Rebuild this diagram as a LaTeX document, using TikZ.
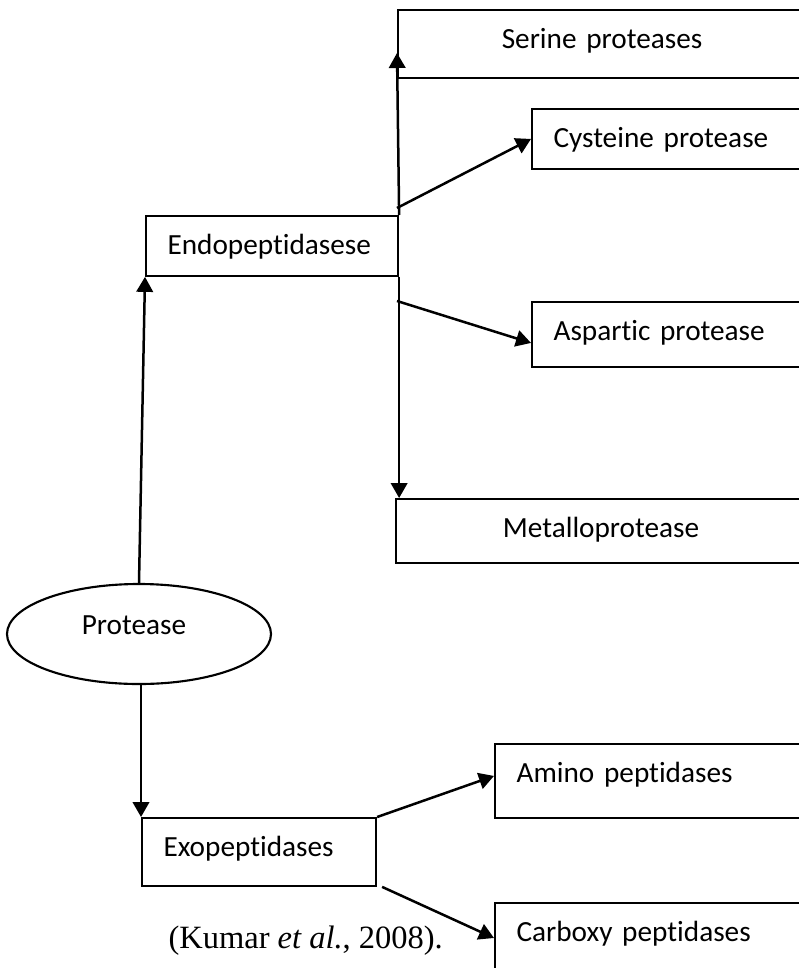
\documentclass[tikz,border=0pt]{standalone}
\usepackage{fontspec}
\setmainfont{Carlito}[Ligatures=NoCommon]
\newfontfamily\citefont{Liberation Serif}
\usetikzlibrary{arrows.meta,shapes.geometric}
\begin{document}
\begin{tikzpicture}[x=0.4pt,y=-0.4pt,
  box/.style={draw=drawColor,line width=0.85pt,rectangle,anchor=north west,inner ysep=0pt,inner xsep=8.6pt,
    text height=15.5pt,align=left,font=\fontsize{11.7}{13}\selectfont},
  link/.style={draw=drawColor,line width=1pt,-{Triangle[length=6pt,width=6.6pt]}}]
\definecolor{drawColor}{RGB}{0,0,0}
\path[use as bounding box,fill=white] (0,0) rectangle (799,968);

\node[box,inner xsep=0pt,text width=163.2pt,align=center,text depth=11.6pt] (serine) at (397,9) {Serine proteases};
\node[box,text width=100pt,text depth=8.4pt] (cysteine) at (531,108) {Cysteine protease};
\node[box,text width=100pt,text depth=10.4pt] (aspartic) at (531,301) {Aspartic protease};
\node[box,inner xsep=0pt,text width=164pt,align=center,text depth=10pt] (metallo) at (395,498) {Metalloprotease};
\node[box,text width=83.6pt,text depth=8.4pt] (endo) at (145,215) {Endopeptidasese};
\node[ellipse,draw=drawColor,line width=0.85pt,minimum width=105.6pt,minimum height=40pt,inner sep=0pt,
  text height=7.2pt,text depth=7.2pt,font=\fontsize{11.7}{13}\selectfont] (protease) at (139,634) {Protease\hspace*{4pt}};
\node[box,text width=76.4pt,text depth=11.6pt] (exo) at (141,817) {Exopeptidases};
\node[box,text width=110pt,text depth=14pt] (amino) at (494,743) {Amino peptidases};
\node[box,text width=110pt,text depth=16pt] (carboxy) at (494,902) {Carboxy peptidases};

\node[anchor=base west,inner sep=0pt,font=\citefont\fontsize{13}{15}\selectfont] (source) at (168,948) {(Kumar \textit{et al.}, 2008).};

\coordinate (sertip) at (397,53);
\coordinate (cysfoot) at (397,208);
\coordinate (aspfoot) at (397,301);

\draw[link] (protease.north) -- (endo.south west);
\draw[link] (protease.south -| exo.north west) -- (exo.north west);
\draw[link] (endo.north east) -- (sertip);
\draw[link] (endo.south east) -- (endo.south east |- metallo.north);
\draw[link] (cysfoot) -- (cysteine.west);
\draw[link] (aspfoot) -- ([yshift=-3.4pt]aspartic.west);
\draw[link] (exo.north east) -- ([yshift=2pt]amino.west);
\draw[link] ([xshift=2pt]exo.south east) -- ([yshift=-14.4pt]carboxy.north west);
\end{tikzpicture}
\end{document}
